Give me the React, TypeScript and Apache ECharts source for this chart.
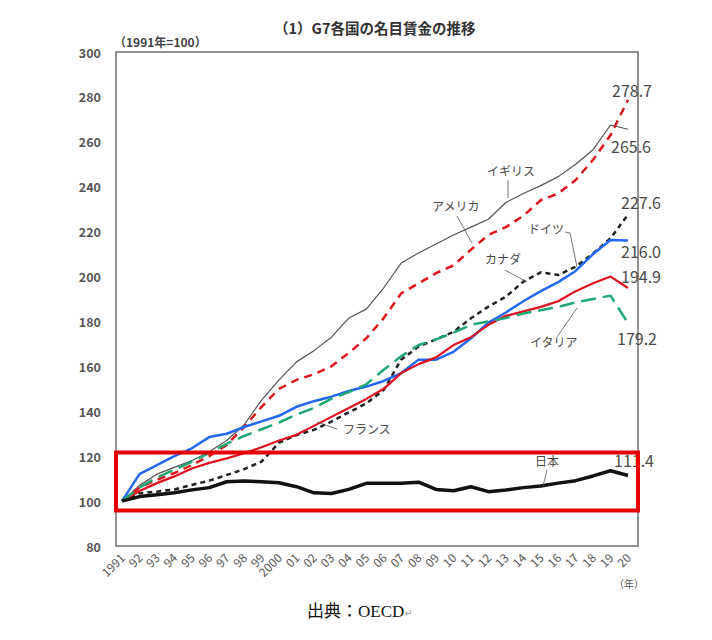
import { useEffect, useRef } from "react";
import * as echarts from "echarts";

const years = [
  "1991", "92", "93", "94", "95", "96", "97", "98", "99", "2000",
  "01", "02", "03", "04", "05", "06", "07", "08", "09", "10",
  "11", "12", "13", "14", "15", "16", "17", "18", "19", "20",
];

const uk = [
  100, 107, 112, 115, 118, 122, 127, 134, 145, 154,
  162, 167, 173, 181.5, 185.5, 195, 206, 210.5, 214.5, 218.5,
  222, 225.5, 233, 237, 240.5, 244.5, 250, 256.5, 267.5, 265.6,
];
const usa = [
  100, 106, 109.5, 112.5, 116, 120, 125, 133, 142, 150,
  154, 156.5, 160, 166, 172.5, 181.5, 192.5, 197, 201.5, 205,
  212, 218.5, 222, 227, 234, 237, 243, 252, 263, 278.7,
];
const canada = [
  100, 103.5, 104.2, 105.2, 107.2, 109.1, 111.6, 114.2, 117.6, 126,
  129.4, 131.7, 135.4, 139.5, 143.5, 149.5, 163, 168.8, 172, 175.4,
  181.4, 186.6, 191, 197.7, 201.9, 200.7, 204.4, 210.3, 217, 227.6,
];
const germany = [
  100, 112, 116, 120, 123.5, 128.5, 130, 133, 135.5, 138,
  142, 144.5, 146.5, 149, 151, 153.5, 157, 163, 163, 166.5,
  172.5, 179.5, 184, 189, 193.5, 197.5, 202.5, 210, 216.3, 216.0,
];
const france = [
  100, 104.5, 108, 111, 114.5, 117, 119, 121.3, 124, 127,
  129.5, 133.5, 137.5, 141.5, 145.5, 150, 157, 161, 164, 169.5,
  173, 178.5, 182.5, 184.5, 186.5, 189, 193.5, 197, 200, 194.9,
];
const italy = [
  100, 106, 110.5, 114, 117.5, 121.5, 125.5, 129, 132, 135,
  138.5, 141.5, 145.5, 148.5, 152, 158.5, 164.5, 169.5, 172, 175,
  178.5, 180, 181.5, 183.5, 185, 186.5, 188.5, 190, 191.5, 179.2,
];
const japan = [
  100, 102, 102.8, 103.7, 105, 106, 108.6, 109, 108.6, 108.2,
  106.4, 103.7, 103.4, 105.2, 107.9, 107.9, 107.9, 108.4, 105.2, 104.6,
  106.4, 104.2, 104.9, 106, 106.7, 108, 109.1, 111.2, 113.5, 111.4,
];

const yTicks = { min: 80, max: 300, step: 20 };

const GRAY_TEXT = "#4a4a4a";
const SANS = "'Noto Sans CJK JP', 'Noto Sans', sans-serif";

const App = () => {
  const chartRef = useRef<HTMLDivElement>(null);

  useEffect(() => {
    if (!chartRef.current) return;

    const chart = echarts.init(chartRef.current, undefined, { renderer: "svg" });

    const endLabel = (offset: number[]) => ({
      show: true,
      formatter: (p: any) => Number(p.value).toFixed(1),
      offset,
      distance: 0,
      color: GRAY_TEXT,
      fontSize: 16,
      fontFamily: SANS,
    });

    const line = (
      name: string,
      data: number[],
      color: string,
      width: number,
      type: any,
      offset: number[],
      z = 2
    ) => ({
      name,
      type: "line",
      data,
      symbol: "none",
      z,
      lineStyle: { color, width, type, cap: "butt" },
      endLabel: endLabel(offset),
    });

    const annotation = (text: string, x: number, y: number) => ({
      type: "text",
      left: x,
      top: y,
      style: { text, fill: GRAY_TEXT, fontSize: 12, fontFamily: SANS },
      z: 10,
    });

    const arrow = (x1: number, y1: number, x2: number, y2: number) => ({
      type: "line",
      shape: { x1, y1, x2, y2 },
      style: { stroke: "#555", lineWidth: 0.8 },
      z: 10,
    });

    const option = {
      animation: false,
      backgroundColor: "#fff",
      grid: { left: 122, right: 84, top: 52, bottom: 94 },
      xAxis: {
        type: "category",
        data: years,
        boundaryGap: false,
        axisLine: { show: false },
        axisTick: { show: false },
        axisLabel: {
          interval: 0,
          rotate: 45,
          margin: 9,
          color: "#555",
          fontSize: 12,
          fontFamily: SANS,
        },
        splitLine: { show: false },
      },
      yAxis: {
        type: "value",
        min: yTicks.min,
        max: yTicks.max,
        interval: yTicks.step,
        axisLine: { show: false },
        axisTick: { show: false },
        splitLine: { show: false },
        axisLabel: {
          margin: 21,
          color: "#555",
          fontSize: 12.5,
          fontWeight: "bold",
          fontFamily: SANS,
        },
      },
      series: [
        line("イギリス", uk, "#555", 1.2, "solid", [-17, 17]),
        line("アメリカ", usa, "#e0141c", 2.5, [8, 6], [-16, -10]),
        line("カナダ", canada, "#222", 2.5, [5, 4], [-7, -13]),
        line("ドイツ", germany, "#2468f0", 2.5, "solid", [-7, 10]),
        line("フランス", france, "#dd1020", 2.2, "solid", [-7, -12]),
        line("イタリア", italy, "#1fa874", 2.5, [15, 7], [-11, 15]),
        line("日本", japan, "#111", 3.5, "solid", [-14, -15], 3),
      ],
      graphic: [
        {
          type: "rect",
          shape: { x: 116, y: 52, width: 522, height: 494 },
          style: { fill: "none", stroke: "#6e6e6e", lineWidth: 1.5 },
          z: 1,
        },
        {
          type: "rect",
          shape: { x: 116, y: 452.5, width: 522, height: 58 },
          style: { fill: "none", stroke: "#e60000", lineWidth: 4 },
          z: 20,
        },
        {
          type: "text",
          left: 274,
          top: 20,
          style: {
            text: "（1）G7各国の名目賃金の推移",
            fill: "#333",
            fontSize: 14.5,
            fontWeight: "bold",
            fontFamily: SANS,
          },
        },
        {
          type: "text",
          left: 114,
          top: 35,
          style: {
            text: "（1991年=100）",
            fill: "#444",
            fontSize: 12,
            fontWeight: "bold",
            fontFamily: SANS,
          },
        },
        {
          type: "text",
          left: 614,
          top: 578,
          style: { text: "（年）", fill: "#555", fontSize: 10, fontFamily: SANS },
        },
        annotation("イギリス", 487, 164),
        arrow(508, 180, 508, 198),
        annotation("アメリカ", 432, 199),
        arrow(457, 216, 472, 243),
        annotation("ドイツ", 528, 222),
        arrow(565, 232, 570, 233),
        arrow(570, 233, 577, 267),
        annotation("カナダ", 485, 252),
        arrow(505, 270, 527, 282),
        annotation("イタリア", 530, 335),
        arrow(557, 337, 577, 308),
        annotation("フランス", 343, 422),
        arrow(337, 429, 317, 422),
        annotation("日本", 535, 454),
        arrow(547, 470, 543, 486),
        {
          type: "text",
          left: 307,
          top: 603,
          style: {
            text: "{a|出典：OECD}{b|↵}",
            rich: {
              a: {
                fill: "#111",
                fontSize: 17,
                fontFamily: "'Liberation Serif', 'Noto Sans CJK JP', serif",
              },
              b: {
                fill: "#999",
                fontSize: 10,
                fontFamily: "'DejaVu Sans'",
                padding: [4, 0, 0, 0],
              },
            },
          },
        },
      ],
    };

    chart.setOption(option);

    const handleResize = () => chart.resize();
    window.addEventListener("resize", handleResize);

    return () => {
      window.removeEventListener("resize", handleResize);
      chart.dispose();
    };
  }, []);

  return (
    <div
      ref={chartRef}
      style={{ position: "fixed", left: 0, top: 0, width: 712, height: 640 }}
    />
  );
};

export default App;
